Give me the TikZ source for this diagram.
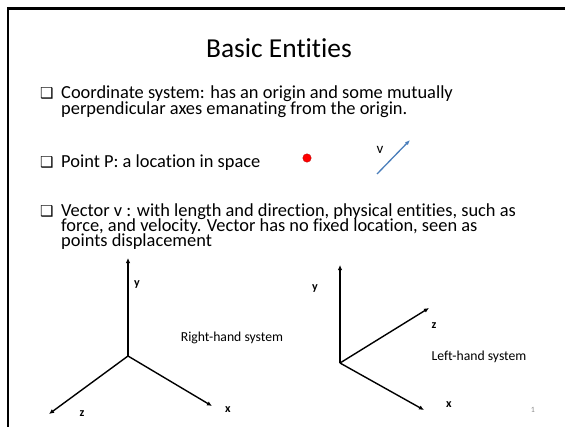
\documentclass[tikz,border=0pt]{standalone}
\usepackage{fontspec}
\setmainfont{Carlito}[Ligatures=NoCommon]
\newfontfamily\symfont{DejaVu Sans}
\usetikzlibrary{arrows.meta,positioning}
\definecolor{vecblue}{RGB}{74,126,187}
\definecolor{slidegray}{RGB}{140,140,140}

\tikzset{
  bodytext/.style={anchor=base west, inner sep=0pt, font=\fontsize{18.4}{15}\selectfont},
  bulletmark/.style={anchor=base west, inner sep=0pt, font=\symfont\fontsize{15}{15}\selectfont},
  axis/.style={line width=1.4pt, -{Latex[length=5pt,width=4.5pt]}},
  axislabel/.style={inner sep=0pt, font=\bfseries\fontsize{12}{12}\selectfont},
  syslabel/.style={inner sep=0pt, font=\fontsize{13.7}{14}\selectfont}
}

\begin{document}
\begin{tikzpicture}[>=Latex, x=1pt, y=-1pt]
  \useasboundingbox (0,0) rectangle (565,426);
  % slide frame
  \draw[line width=2.6pt] (8,440) -- (8,8.5) -- (580,8.5);

  \node[anchor=base, inner sep=0pt, font=\fontsize{27.4}{30}\selectfont] (title) at (279,57) {Basic Entities};

  % bullets
  \node[bulletmark] (b1) at (40,98) {❑};
  \node[bodytext] (t1a) at (61,98) {Coordinate system: has an origin and some mutually};
  \node[bodytext] (t1b) at (61,114) {perpendicular axes emanating from the origin.};
  \node[bulletmark] (b2) at (40,167) {❑};
  \node[bodytext] (t2) at (61,167) {Point P: a location in space};
  \node[bulletmark] (b3) at (40,216.5) {❑};
  \node[bodytext] (t3a) at (61,216.5) {Vector v : with length and direction, physical entities, such as};
  \node[bodytext] (t3b) at (61,231.5) {force, and velocity. Vector has no fixed location, seen as};
  \node[bodytext] (t3c) at (61,246.5) {points displacement};

  % point and vector
  \node[circle, fill=red, draw=red!70!black, line width=0.3pt, minimum size=8.5pt, inner sep=0pt] (pt) at (307,158) {};
  \coordinate (vs) at (377,174);
  \coordinate (ve) at (410,140);
  \draw[vecblue, line width=1.3pt, -{Latex[length=5pt,width=4pt]}] (vs) -- (ve);
  \node[inner sep=0pt, font=\fontsize{15}{15}\selectfont] (vlab) at (380,150) {v};

  % right-hand system
  \coordinate (ro) at (128,356);
  \coordinate (ry) at (128,258);
  \coordinate (rx) at (212,406);
  \coordinate (rz) at (49,414);
  \draw[axis] (ro) -- (ry);
  \draw[axis] (ro) -- (rx);
  \draw[axis] (ro) -- (rz);
  \node[axislabel] (rylab) at (137,285) {y};
  \node[axislabel] (rxlab) at (228,410) {x};
  \node[axislabel] (rzlab) at (82,414) {z};
  \node[syslabel] (rhs) at (232,338) {Right-hand system};

  % left-hand system
  \coordinate (lo) at (340,363);
  \coordinate (ly) at (340,265);
  \coordinate (lz) at (429,308);
  \coordinate (lx) at (424,410);
  \draw[axis] (lo) -- (ly);
  \draw[axis] (lo) -- (lz);
  \draw[axis] (lo) -- (lx);
  \node[axislabel] (lylab) at (315,289) {y};
  \node[axislabel] (lzlab) at (434,326) {z};
  \node[axislabel] (lxlab) at (449,405) {x};
  \node[syslabel] (lhs) at (479,357) {Left-hand system};

  \node[slidegray, inner sep=0pt, font=\fontsize{8}{8}\selectfont] (pagenum) at (533,410) {1};
\end{tikzpicture}
\end{document}
